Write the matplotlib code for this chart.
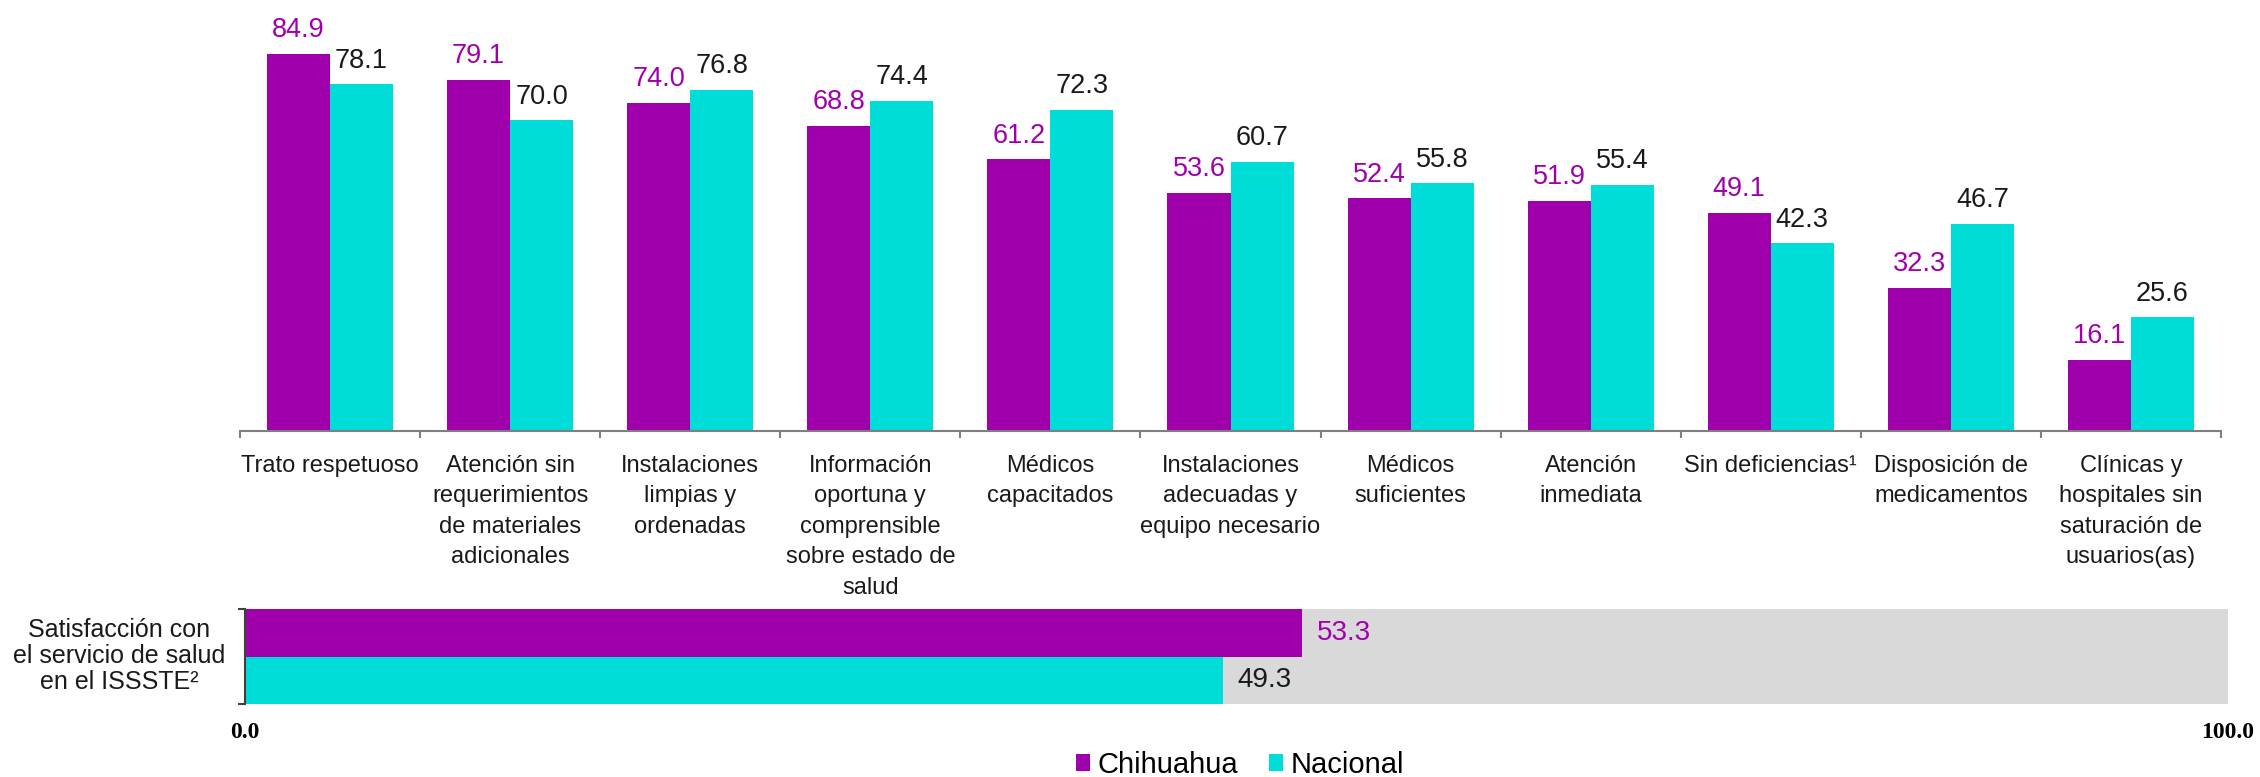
import matplotlib
matplotlib.use("Agg")
import matplotlib.pyplot as plt
from matplotlib.patches import Patch

# data
categorias = [
    "Trato respetuoso",
    "Atención sin\nrequerimientos\nde materiales\nadicionales",
    "Instalaciones\nlimpias y\nordenadas",
    "Información\noportuna y\ncomprensible\nsobre estado de\nsalud",
    "Médicos\ncapacitados",
    "Instalaciones\nadecuadas y\nequipo necesario",
    "Médicos\nsuficientes",
    "Atención\ninmediata",
    "Sin deficiencias¹",
    "Disposición de\nmedicamentos",
    "Clínicas y\nhospitales sin\nsaturación de\nusuarios(as)",
]
chihuahua = [84.9, 79.1, 74.0, 68.8, 61.2, 53.6, 52.4, 51.9, 49.1, 32.3, 16.1]
nacional = [78.1, 70.0, 76.8, 74.4, 72.3, 60.7, 55.8, 55.4, 42.3, 46.7, 25.6]

satisf_label = "Satisfacción con\nel servicio de salud\nen el ISSSTE²"
satisf_chihuahua = 53.3
satisf_nacional = 49.3
escala_max = 100.0

series_names = ["Chihuahua", "Nacional"]

PURPLE = "#A000AC"
CYAN = "#00DCD8"
GRAY = "#D9D9D9"
TXT = "#1A1A1A"

plt.rcParams["font.family"] = ["Liberation Sans", "DejaVu Sans"]

W, H = 2260, 777
fig = plt.figure(figsize=(W / 100, H / 100), dpi=100)

def px_axes(x0, y0, x1, y1):
    # pixel box (top-left origin) -> figure fraction
    return fig.add_axes([x0 / W, 1 - y1 / H, (x1 - x0) / W, (y1 - y0) / H])

# ---- top grouped bars ----
ax = px_axes(240, 0, 2221, 431)
n = len(categorias)
xs = list(range(n))
bw = 0.35
ax.bar([x - bw / 2 for x in xs], chihuahua, width=bw, color=PURPLE)
ax.bar([x + bw / 2 for x in xs], nacional, width=bw, color=CYAN)
ax.set_xlim(-0.5, n - 0.5)
ax.set_ylim(0, 97.1)

for x, v in zip(xs, chihuahua):
    ax.annotate("%.1f" % v, (x - bw / 2, v), xytext=(0, 12), textcoords="offset points",
                ha="center", va="baseline", fontsize=19.5, color=PURPLE, annotation_clip=False)
for x, v in zip(xs, nacional):
    ax.annotate("%.1f" % v, (x + bw / 2, v), xytext=(0, 12), textcoords="offset points",
                ha="center", va="baseline", fontsize=19.5, color=TXT, annotation_clip=False)

for s in ["top", "right", "left"]:
    ax.spines[s].set_visible(False)
ax.spines["bottom"].set_color("#7F7F7F")
ax.spines["bottom"].set_linewidth(1.5)
ax.set_yticks([])
ax.set_xticks(xs)
ax.set_xticklabels(categorias, fontsize=17, color=TXT, linespacing=1.5)
ax.tick_params(axis="x", which="major", length=0, pad=17)
ax.set_xticks([x - 0.5 for x in xs] + [n - 0.5], minor=True)
ax.tick_params(axis="x", which="minor", length=5, width=1.5, color="#7F7F7F", direction="out")
ax.set_facecolor("none")

# ---- bottom satisfaction bar ----
bx = px_axes(245, 609, 2228, 704)
bx.barh([1, 0], [escala_max, escala_max], height=1.0, color=GRAY)
bx.barh(1, satisf_chihuahua, height=1.0, color=PURPLE)
bx.barh(0, satisf_nacional, height=1.0, color=CYAN)
bx.set_xlim(0, escala_max)
bx.set_ylim(-0.5, 1.5)
bx.text(satisf_chihuahua + 0.75, 1, "%.1f" % satisf_chihuahua, ha="left", va="center",
        fontsize=20, color=PURPLE)
bx.text(satisf_nacional + 0.75, 0, "%.1f" % satisf_nacional, ha="left", va="center",
        fontsize=20, color=TXT)
for s in ["top", "right", "bottom"]:
    bx.spines[s].set_visible(False)
bx.spines["left"].set_color("#404040")
bx.spines["left"].set_linewidth(1.5)
bx.set_yticks([-0.5, 1.5])
bx.set_yticklabels([])
bx.tick_params(axis="y", length=5, width=1.5, color="#404040")
bx.set_xticks([])
for v in [0, escala_max]:
    bx.text(v, -0.3, "%.1f" % v, transform=bx.get_xaxis_transform(), ha="center", va="center",
            fontsize=17, fontweight="bold", family=["Liberation Serif", "DejaVu Serif"],
            color="black")

fig.text(119 / W, 1 - 656 / H, satisf_label, ha="center", va="center", fontsize=18,
         color=TXT, linespacing=1.13, multialignment="center")

# legend
handles = [Patch(facecolor=PURPLE), Patch(facecolor=CYAN)]
fig.legend(handles, series_names, loc="center", bbox_to_anchor=(1240 / W, 1 - 765 / H),
           ncol=2, frameon=False, fontsize=21, handlelength=0.5, handleheight=0.5,
           handletextpad=0.25, columnspacing=1.05, borderpad=0)

fig.savefig("out.png", dpi=100)
